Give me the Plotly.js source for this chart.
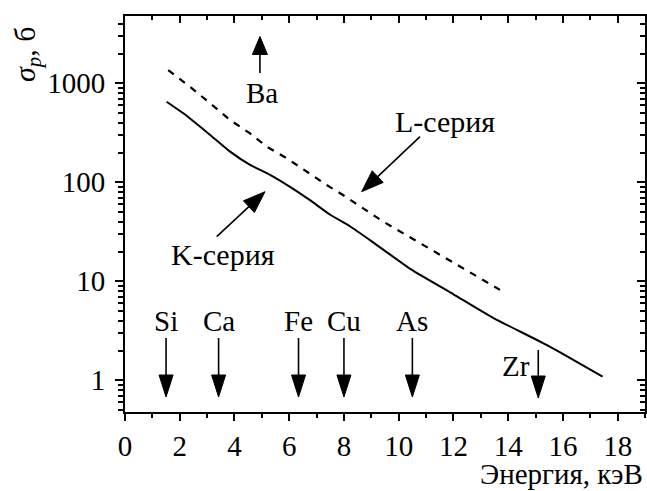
<!DOCTYPE html>
<html><head><meta charset="utf-8">
<script src="https://cdn.plot.ly/plotly-3.0.1.min.js"></script>
</head><body>
<div id="chart" style="position:absolute;left:0;top:0;width:647px;height:491px"></div>
<script>
// K-series (solid)
const kEnergy = [1.52, 2.13, 3.11, 3.84, 4.57, 5.3, 6.03, 6.76, 7.5, 8.22, 9.0, 10.45, 12.0, 13.5, 15.0, 15.9, 17.45];
const kSigma  = [652, 498, 301, 204, 150, 119, 90, 66, 47, 36, 25.5, 13.2, 7.4, 4.2, 2.6, 1.92, 1.09];
// L-series (dashed)
const lEnergy = [1.58, 2.37, 3.11, 3.84, 4.57, 5.18, 5.91, 6.64, 7.37, 7.98, 8.71, 9.44, 10.17, 10.9, 11.51, 12.24, 12.97, 13.7];
const lSigma  = [1362, 925, 628, 426, 312, 229, 175, 128, 94, 74, 54, 40, 30.5, 23.3, 18.3, 14.1, 10.7, 8.2];
// element markers
const elemNames  = ['Si', 'Ca', 'Fe', 'Cu', 'As', 'Zr'];
const elemEnergy = [1.5, 3.42, 6.34, 8.0, 10.5, 15.1];
const baName = 'Ba';
const baEnergy = 4.93;
// axes
const xTickVals = [0, 2, 4, 6, 8, 10, 12, 14, 16, 18];
const xMinorVals = [1, 3, 5, 7, 9, 11, 13, 15, 17, 19];
const yTickVals = [1, 10, 100, 1000];
const yTickText = ['1', '10', '100', '1000'];
const xTitle = 'Энергия, кэВ';
const yTitle = '<i>σ<sub>p</sub></i>, б';
const kLabel = 'K-серия';
const lLabel = 'L-серия';

const W = 647, H = 491, ML = 125, MR = 2, MT = 16, MB = 79;
const PW = W - ML - MR, PH = H - MT - MB;
const XR = [0, 19], YR = [-0.32, 3.68];
const FONTNAME = 'Liberation Serif';
const pyP = p => (MT + PH - p) / PH;     // pixel y -> paper
const pxP = p => (p - ML) / PW;          // pixel x -> paper
const dxPerPx = (XR[1] - XR[0]) / PW;

const minorY = [];
for (let e = -1; e <= 3; e++) for (let d = 2; d <= 9; d++) minorY.push(d * Math.pow(10, e));

const shapes = [];
const annotations = [];
function vArrow(x, yTail, yTip, headLen, halfW) {
  const dir = yTip > yTail ? 1 : -1;
  const yBase = yTip - dir * headLen;
  shapes.push({type: 'line', xref: 'x', yref: 'paper', x0: x, x1: x, y0: pyP(yTail), y1: pyP(yBase),
    line: {color: '#000', width: 1.6}});
  const hw = halfW * dxPerPx;
  shapes.push({type: 'path', xref: 'x', yref: 'paper',
    path: `M ${x - hw},${pyP(yBase)} L ${x + hw},${pyP(yBase)} L ${x},${pyP(yTip)} Z`,
    fillcolor: '#000', line: {color: '#000', width: 1}});
}
function pArrow(tx, ty, hx, hy, headLen, halfW) {
  const L = Math.hypot(hx - tx, hy - ty), ux = (hx - tx) / L, uy = (hy - ty) / L;
  const bx = hx - ux * headLen, by = hy - uy * headLen;
  shapes.push({type: 'line', xref: 'paper', yref: 'paper', x0: pxP(tx), y0: pyP(ty), x1: pxP(bx), y1: pyP(by),
    line: {color: '#000', width: 1.6}});
  const nx = -uy, ny = ux;
  shapes.push({type: 'path', xref: 'paper', yref: 'paper',
    path: `M ${pxP(bx + nx * halfW)},${pyP(by + ny * halfW)} L ${pxP(bx - nx * halfW)},${pyP(by - ny * halfW)} L ${pxP(hx)},${pyP(hy)} Z`,
    fillcolor: '#000', line: {color: '#000', width: 1}});
}
function mkFont(s) { return {family: FONTNAME, size: s, color: '#000'}; }

elemNames.forEach((n, i) => {
  const isZr = n === 'Zr';
  vArrow(elemEnergy[i], isZr ? 350 : 338, isZr ? 398 : 397, 22, 7);
  annotations.push({text: n, x: elemEnergy[i], xref: 'x', yref: 'paper',
    y: pyP(isZr ? 366 : 321), xanchor: isZr ? 'right' : 'center', yanchor: 'middle',
    xshift: isZr ? -6 : 0, showarrow: false, font: mkFont(29)});
});
vArrow(baEnergy, 73, 36.5, 18, 7.5);
annotations.push({text: baName, x: baEnergy, xref: 'x', yref: 'paper', y: pyP(93), xshift: 2,
  xanchor: 'center', yanchor: 'middle', showarrow: false, font: mkFont(29)});
pArrow(216.7, 236.7, 265, 191.7, 22, 8);
pArrow(420, 136.7, 361.7, 191.7, 22, 8);
annotations.push({text: kLabel, xref: 'paper', yref: 'paper', x: pxP(223), y: pyP(254),
  xanchor: 'center', yanchor: 'middle', showarrow: false, font: mkFont(30)});
annotations.push({text: lLabel, xref: 'paper', yref: 'paper', x: pxP(445), y: pyP(121),
  xanchor: 'center', yanchor: 'middle', showarrow: false, font: mkFont(30)});
annotations.push({text: xTitle, xref: 'paper', yref: 'paper', x: 1, y: pyP(474),
  xanchor: 'right', yanchor: 'middle', showarrow: false, font: mkFont(29)});
annotations.push({text: yTitle, xref: 'paper', yref: 'paper', x: pxP(27), y: pyP(54), textangle: -90,
  xanchor: 'center', yanchor: 'middle', showarrow: false, font: mkFont(30)});

const traces = [
  {x: kEnergy, y: kSigma, mode: 'lines', line: {color: '#000', width: 2, shape: 'spline', smoothing: 0.4},
   showlegend: false, hoverinfo: 'skip'},
  {x: lEnergy, y: lSigma, mode: 'lines', line: {color: '#000', width: 2.2, dash: '7px,7px'},
   showlegend: false, hoverinfo: 'skip'},
  {x: [null], y: [null], xaxis: 'x2', yaxis: 'y2', mode: 'lines', showlegend: false, hoverinfo: 'skip'}
];

function axBase() {
  return {showgrid: false, zeroline: false, showline: true, linecolor: '#000', linewidth: 2,
    tickcolor: '#000', tickfont: mkFont(29)};
}
const layout = {
  width: W, height: H, margin: {l: ML, r: MR, t: MT, b: MB, pad: 0},
  paper_bgcolor: '#fff', plot_bgcolor: '#fff', showlegend: false,
  font: {family: FONTNAME, size: 29, color: '#000'},
  xaxis: Object.assign(axBase(), {range: XR, tickmode: 'array', tickvals: xTickVals,
    ticks: 'outside', ticklen: 7, tickwidth: 2, ticklabelstandoff: 0,
    minor: {tickvals: xMinorVals, ticks: 'outside', ticklen: 4, tickwidth: 1.5, tickcolor: '#000', showgrid: false}}),
  yaxis: Object.assign(axBase(), {type: 'log', range: YR, tickmode: 'array', tickvals: yTickVals, ticktext: yTickText,
    ticks: 'outside', ticklen: 8, tickwidth: 2, ticklabelstandoff: 4,
    minor: {tickvals: minorY, ticks: 'outside', ticklen: 5, tickwidth: 1.5, tickcolor: '#000', showgrid: false}}),
  xaxis2: Object.assign(axBase(), {range: XR, overlaying: 'x', side: 'top', anchor: 'y2', tickmode: 'array', tickvals: xTickVals,
    ticks: 'inside', ticklen: 7, tickwidth: 2, showticklabels: false,
    minor: {tickvals: xMinorVals, ticks: 'inside', ticklen: 4, tickwidth: 1.5, tickcolor: '#000', showgrid: false}}),
  yaxis2: Object.assign(axBase(), {type: 'log', range: YR, overlaying: 'y', side: 'right', anchor: 'x2', tickmode: 'array', tickvals: yTickVals,
    ticks: 'inside', ticklen: 8, tickwidth: 2, showticklabels: false,
    minor: {tickvals: minorY, ticks: 'inside', ticklen: 5, tickwidth: 1.5, tickcolor: '#000', showgrid: false}}),
  shapes: shapes, annotations: annotations
};
Plotly.newPlot('chart', traces, layout, {displayModeBar: false});
</script></body></html>
